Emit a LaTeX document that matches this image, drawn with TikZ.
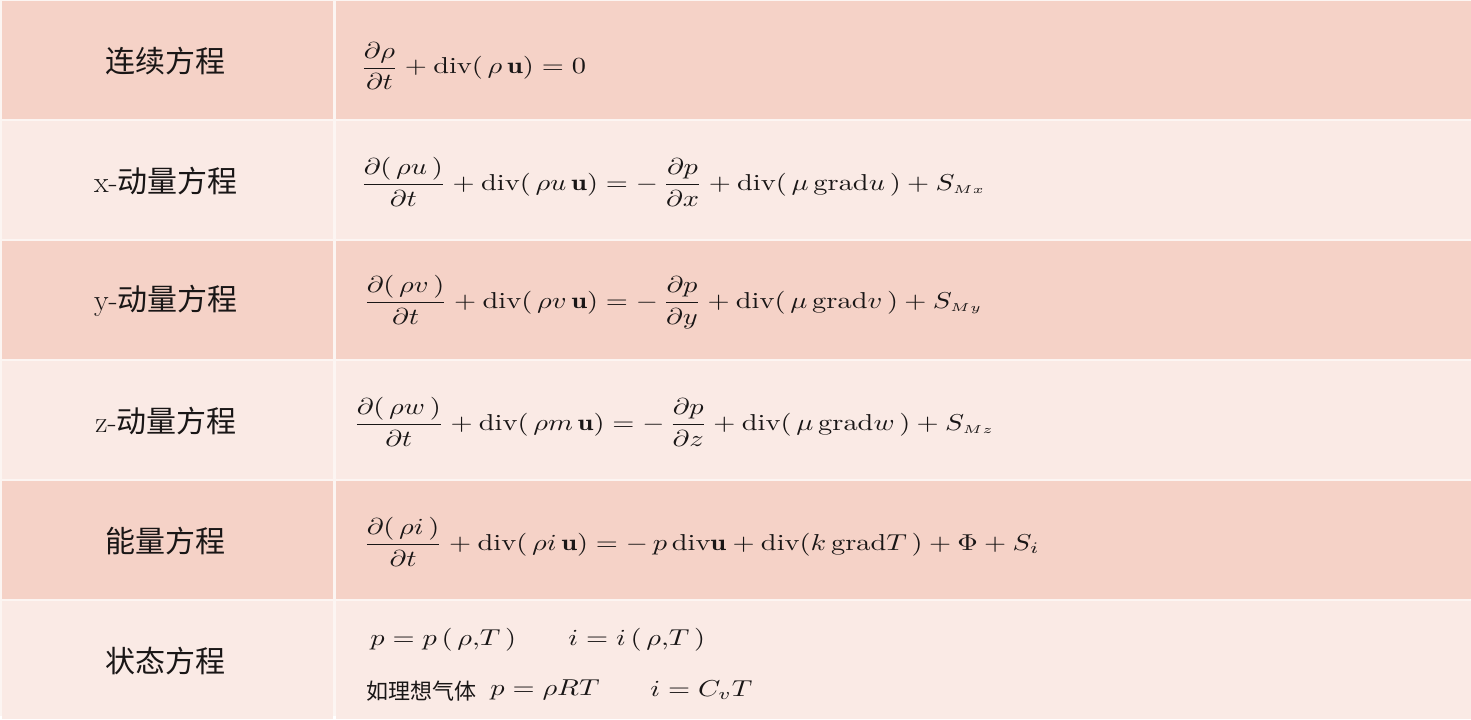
\documentclass[tikz,border=0pt]{standalone}
\usepackage{fontspec}
\usepackage{amsmath}
\newfontfamily\cjk{Noto Sans CJK SC}
\definecolor{rowdark}{RGB}{245,210,199}
\definecolor{rowlight}{RGB}{250,234,229}
\definecolor{gridline}{RGB}{252,245,242}
\definecolor{ink}{RGB}{25,22,22}
\newcommand\widen[1]{\scalebox{1.42}[1.15]{#1}}

\begin{document}
\begin{tikzpicture}[x=0.5pt,y=-0.5pt,
  lbl/.style={text=ink,font=\fontsize{15}{18}\selectfont},
  eqn/.style={text=ink,anchor=west,inner sep=0pt},
  note/.style={text=ink,anchor=west,inner sep=0pt,font=\fontsize{11}{13}\selectfont\cjk}]
  \fill[gridline] (0,0) rectangle (1471,716);
  \foreach \r/\c in {0/rowdark,1/rowlight,2/rowdark,3/rowlight,4/rowdark,5/rowlight}
  {
    \fill[\c] (2,\r*120+1) rectangle (333,\r*120+119);
    \fill[\c] (336,\r*120+1) rectangle (1471,\r*120+119);
  }
  \useasboundingbox (0,0) rectangle (1471,716);
  % left column
  \node[lbl] (cont) at (165,61) {\cjk 连续方程};
  \node[lbl] (xmom) at (166,181) {x-{\cjk 动量方程}};
  \node[lbl] (ymom) at (166,301) {y-{\cjk 动量方程}};
  \node[lbl] (zmom) at (166,421) {z-{\cjk 动量方程}};
  \node[lbl] (energy) at (165,541) {\cjk 能量方程};
  \node[lbl] (state) at (165,661) {\cjk 状态方程};
  % right column
  \node[eqn] (conteq) at (360,66)
    {\widen{$\displaystyle\frac{\partial\rho}{\partial t}+\mathrm{div}(\,\rho\,\mathbf{u})=0$}};
  \node[eqn] (xmomeq) at (360,182)
    {\widen{$\displaystyle\frac{\partial(\,\rho u\,)}{\partial t}+\mathrm{div}(\,\rho u\,\mathbf{u})=-\,\frac{\partial p}{\partial x}+\mathrm{div}(\,\mu\,\mathrm{grad}u\,)+S_{\scriptscriptstyle Mx}$}};
  \node[eqn] (ymomeq) at (363,302)
    {\widen{$\displaystyle\frac{\partial(\,\rho v\,)}{\partial t}+\mathrm{div}(\,\rho v\,\mathbf{u})=-\,\frac{\partial p}{\partial y}+\mathrm{div}(\,\mu\,\mathrm{grad}v\,)+S_{\scriptscriptstyle My}$}};
  \node[eqn] (zmomeq) at (353,422)
    {\widen{$\displaystyle\frac{\partial(\,\rho w\,)}{\partial t}+\mathrm{div}(\,\rho m\,\mathbf{u})=-\,\frac{\partial p}{\partial z}+\mathrm{div}(\,\mu\,\mathrm{grad}w\,)+S_{\scriptscriptstyle Mz}$}};
  \node[eqn] (energyeq) at (363,542)
    {\widen{$\displaystyle\frac{\partial(\,\rho i\,)}{\partial t}+\mathrm{div}(\,\rho i\,\mathbf{u})=-\,p\,\mathrm{div}\mathbf{u}+\mathrm{div}(k\,\mathrm{grad}T\,)+\Phi+S_i$}};
  \node[eqn] (statep) at (370,640) {\widen{$p=p\,(\,\rho{,}T\,)$}};
  \node[eqn] (statei) at (568,640) {\widen{$i=i\,(\,\rho{,}T\,)$}};
  \node[note] (ideal) at (366,691) {如理想气体};
  \node[eqn] (idealp) at (490,690) {\widen{$p=\rho RT$}};
  \node[eqn] (ideali) at (650,690) {\widen{$i=C_vT$}};
\end{tikzpicture}
\end{document}
